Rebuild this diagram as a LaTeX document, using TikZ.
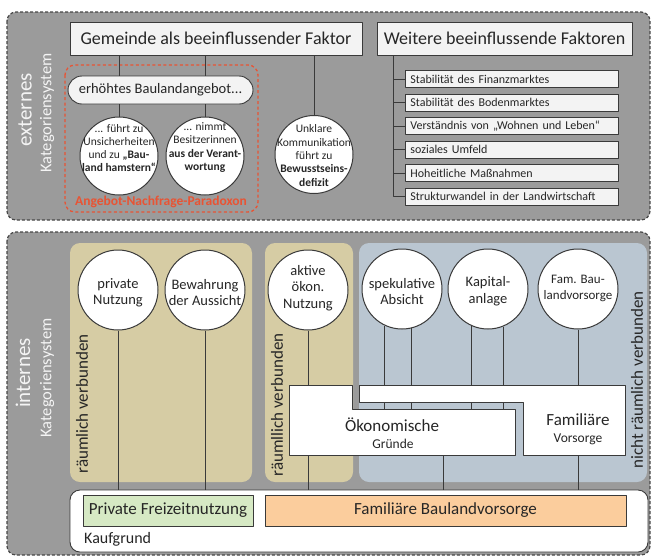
\documentclass[tikz,border=0pt]{standalone}
\usepackage{fontspec}
\setmainfont{Carlito}
\usetikzlibrary{calc}
\newcommand\fsz[2]{\fontsize{#1pt}{#2pt}\selectfont}
\definecolor{panelgray}{RGB}{155,155,155}
\definecolor{dashgray}{RGB}{72,72,72}
\definecolor{linegray}{RGB}{58,58,58}
\definecolor{boxfill}{RGB}{243,243,243}
\definecolor{tanzone}{RGB}{214,204,164}
\definecolor{bluezone}{RGB}{186,198,209}
\definecolor{redline}{RGB}{232,84,52}
\definecolor{greenfill}{RGB}{214,233,196}
\definecolor{orangefill}{RGB}{251,205,157}
\definecolor{txt}{RGB}{38,38,38}
\definecolor{paneltext}{RGB}{244,244,244}
\begin{document}
\begin{tikzpicture}[x=1pt,y=-1pt,line join=round,
  panel/.style={fill=panelgray,draw=dashgray,line width=1.2pt,dash pattern=on 3pt off 2pt,rounded corners=9pt},
  zone/.style={rounded corners=10pt},
  conn/.style={draw=linegray,line width=0.9pt},
  headbox/.style={draw=linegray,line width=0.9pt,fill=boxfill,text=txt,font=\fsz{18}{21},minimum height=33pt,inner sep=0pt},
  listbox/.style={draw=linegray,line width=0.8pt,fill=boxfill,text=txt,font=\fsz{12}{14},anchor=west,text width=203pt,inner xsep=5pt,inner ysep=0pt,minimum height=17pt,align=left},
  bubble/.style={circle,draw=linegray,line width=1pt,fill=white,inner sep=0pt},
  bubtext/.style={text=txt,align=center,inner sep=0pt},
  whiteshape/.style={fill=white,draw=linegray,line width=0.9pt},
  sidelabel/.style={rotate=90,text=paneltext,inner sep=0pt},
  zonelabel/.style={rotate=90,text=txt,font=\fsz{17}{20},inner sep=0pt},
  kaufbox/.style={draw=linegray,line width=0.9pt,text=txt,font=\fsz{17}{20},inner sep=0pt,minimum height=31pt}
]
\useasboundingbox (0,0) rectangle (653,558);
\fill[white] (0,0) rectangle (653,558);

% ---------- external category system ----------
\draw[panel] (7,12) rectangle (650,220);
\node[sidelabel,font=\fsz{21}{24}] (extA) at (25,110) {externes};
\node[sidelabel,font=\fsz{16.5}{19}] (extB) at (47,113) {Kategoriensystem};

\node[headbox,minimum width=292pt] (gem) at (216,38.5) {Gemeinde als beeinflussender Faktor};
\node[headbox,minimum width=255pt] (wf) at (504.5,38.5) {Weitere beeinflussende Faktoren};

\node[listbox] (l1) at (405,79) {Stabilität des Finanzmarktes};
\node[listbox] (l2) at (405,102.5) {Stabilität des Bodenmarktes};
\node[listbox] (l3) at (405,126) {Verständnis von „Wohnen und Leben“};
\node[listbox] (l4) at (405,149.5) {soziales Umfeld};
\node[listbox] (l5) at (405,173) {Hoheitliche Maßnahmen};
\node[listbox] (l6) at (405,196.5) {Strukturwandel in der Landwirtschaft};
\coordinate (tr) at (393,0);
\draw[conn] (tr |- wf.south) -- (tr |- l6.west) -- (l6.west);
\foreach \i in {1,...,5} \draw[conn] (tr |- l\i.west) -- (l\i.west);

% supply-demand paradox group
\draw[draw=redline,line width=1.3pt,dash pattern=on 3pt off 2.5pt,rounded corners=10pt] (65,65) rectangle (258,212);
\node[draw=linegray,line width=0.9pt,fill=boxfill,rounded corners=14pt,minimum width=185pt,minimum height=28pt,inner sep=0pt,text=txt,font=\fsz{14.5}{17}] (pill) at (160.5,90) {erhöhtes Baulandangebot...};

\node[bubble,minimum size=78pt] (c1) at (119,156) {};
\node[bubble,minimum size=78pt] (c2) at (205,156) {};
\node[bubble,minimum size=78pt] (c3) at (314,154.5) {};
\draw[conn] (c1 |- gem.south) -- (c1 |- pill.north);
\draw[conn] (c1 |- pill.south) -- (c1.north);
\draw[conn] (c2 |- gem.south) -- (c2 |- pill.north);
\draw[conn] (c2 |- pill.south) -- (c2.north);
\draw[conn] (c3 |- gem.south) -- (c3.north);
\node[bubtext,font=\fsz{11.5}{13.2}] (c1t) at (119,148) {... führt zu\\Unsicherheiten\\und zu \textbf{„Bau-}\\\textbf{land hamstern“}};
\node[bubtext,font=\fsz{11.5}{13.2}] (c2t) at (205,147.5) {... nimmt\\Besitzerinnen\\\textbf{aus der Verant-}\\\textbf{wortung}};
\node[bubtext,font=\fsz{11.5}{13.4}] (c3t) at (314,155.5) {Unklare\\Kommunikation\\führt zu\\\textbf{Bewusstseins-}\\\textbf{defizit}};
\node[text=redline,font=\bfseries\fsz{13.5}{15},inner sep=0pt] (apn) at (161,202) {Angebot-Nachfrage-Paradoxon};

% ---------- internal category system ----------
\draw[panel] (7,232) rectangle (650,555);
\node[sidelabel,font=\fsz{21}{24}] (intA) at (23,373) {internes};
\node[sidelabel,font=\fsz{16.5}{19}] (intB) at (47,378) {Kategoriensystem};

\fill[zone,tanzone] (70,243) rectangle (252,482);
\fill[zone,tanzone] (265,243) rectangle (353,482);
\fill[zone,bluezone] (359,243) rectangle (647,482);
\node[zonelabel] (z1) at (82,404) {räumlich verbunden};
\node[zonelabel] (z2) at (277,405) {räumllich verbunden};
\node[zonelabel] (z3) at (637,380) {nicht räumlich verbunden};

% purchase reason
\node[kaufbox,fill=white,rounded corners=10pt,minimum width=578pt,minimum height=62pt] (kauf) at (359,521) {};
\node[kaufbox,fill=greenfill,minimum width=170pt] (pf) at (168,510.5) {Private Freizeitnutzung};
\node[kaufbox,fill=orangefill,minimum width=361pt] (fbv) at (445.5,510.5) {Familiäre Baulandvorsorge};
\node[anchor=west,text=txt,font=\fsz{16}{19},inner sep=0pt] (kg) at (84,539) {Kaufgrund};

% motive bubbles
\node[bubble,minimum size=80pt] (pn) at (118,290) {};
\node[bubble,minimum size=80pt] (ba) at (205,290) {};
\node[bubble,minimum size=80pt] (ak) at (308,290) {};
\node[bubble,minimum size=80pt] (sp) at (402,289) {};
\node[bubble,minimum size=80pt] (ka) at (488,289) {};
\node[bubble,minimum size=80pt] (fb) at (578,289) {};

\coordinate (oekIn) at (443,430);
\draw[conn] (pn.south) -- (pn.south |- kauf.north);
\draw[conn] (ba.south) -- (ba.south |- kauf.north);
\draw[conn] (ak.south) -- (ak.south |- kauf.north);
\draw[conn] (sp.245) -- (sp.245 |- oekIn);
\draw[conn] (sp.283) -- (sp.283 |- oekIn);
\draw[conn] (ka.246) -- (ka.246 |- oekIn);
\draw[conn] (ka.292) -- (ka.292 |- oekIn);
\draw[conn] (oekIn) -- (oekIn |- kauf.north);
\draw[conn] (fb.south) -- (fb.south |- kauf.north);

% grouping shapes
\draw[whiteshape] (289,385) -- (352,385) -- (352,409) -- (515,409) -- (515,455) -- (289,455) -- cycle;
\draw[whiteshape] (359,385) -- (625,385) -- (625,455) -- (523,455) -- (523,402) -- (359,402) -- cycle;
\node[bubtext,font=\fsz{17}{20}] (oekA) at (392,425) {Ökonomische};
\node[bubtext,font=\fsz{13.5}{16}] (oekB) at (393,443.5) {Gründe};
\node[bubtext,font=\fsz{17}{20}] (famA) at (578,420) {Familiäre};
\node[bubtext,font=\fsz{13.5}{16}] (famB) at (578,439.5) {Vorsorge};

\node[bubtext,font=\fsz{14.5}{16}] (pnt) at (118,293) {private\\Nutzung};
\node[bubtext,font=\fsz{14.5}{16}] (bat) at (205,293) {Bewahrung\\der Aussicht};
\node[bubtext,font=\fsz{14.5}{16.5}] (akt) at (308,288) {aktive\\ökon.\\Nutzung};
\node[bubtext,font=\fsz{14.5}{16}] (spt) at (402,292) {spekulative\\Absicht};
\node[bubtext,font=\fsz{14.5}{16.5}] (kat) at (488,291) {Kapital-\\anlage};
\node[bubtext,font=\fsz{13}{16}] (fbt) at (578,288) {Fam. Bau-\\landvorsorge};
\end{tikzpicture}
\end{document}
